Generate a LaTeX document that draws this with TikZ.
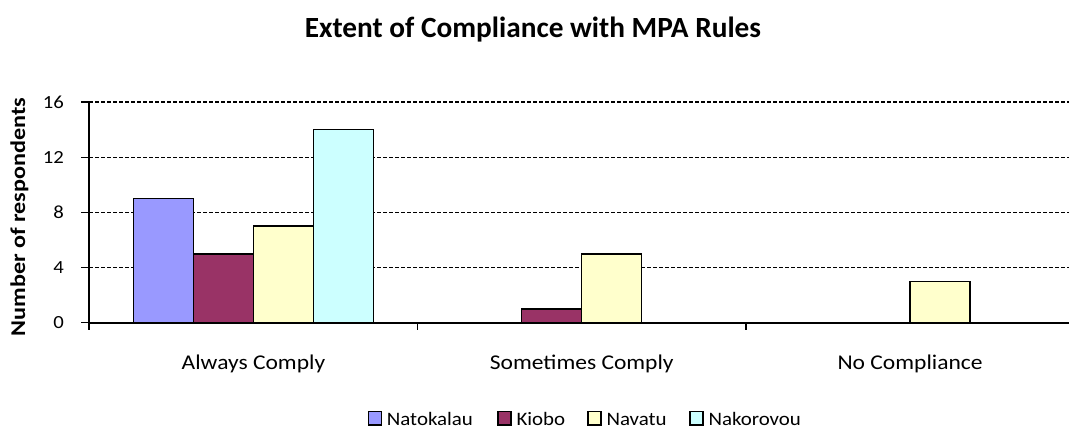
\documentclass[tikz,border=0pt]{standalone}
\usepackage{fontspec}
\setmainfont{Carlito}
\newfontfamily\widefont{Carlito}[FakeStretch=1.12]
\newfontfamily\legendfont{Carlito}[FakeStretch=1.1]
\newfontfamily\axistitlefont{Carlito}[FakeStretch=1.15]
\definecolor{natokalau}{HTML}{9999FF}
\definecolor{kiobo}{HTML}{993366}
\definecolor{navatu}{HTML}{FFFFCC}
\definecolor{nakorovou}{HTML}{CCFFFF}
\tikzset{
  gridline/.style={draw=black, line width=1.3pt, dash pattern=on 4pt off 2pt},
  axisline/.style={draw=black, line width=2pt},
  tickline/.style={draw=black, line width=1.3pt},
  bar/.style={draw=black, line width=1.5pt},
  legbox/.style={draw=black, line width=1.3pt, minimum width=13pt, minimum height=13.5pt, inner sep=0pt},
  ticklabel/.style={font=\widefont\fontsize{18.5}{22}\selectfont, inner sep=0pt},
  catlabel/.style={font=\widefont\fontsize{21}{25}\selectfont, inner sep=0pt},
  legtext/.style={font=\legendfont\fontsize{19}{23}\selectfont, inner sep=0pt, anchor=base west},
}
% chart geometry: origin of the value axis, pixels per unit, category width, bar width
\def\yzero{322.7}
\def\unit{13.79}
\def\catw{328.3}
\def\barw{60}
\def\xzero{89.3}
\begin{document}
\begin{tikzpicture}[x=1pt, y=-1pt]
\useasboundingbox (0,0) rectangle (1069,429);

% title
\node[font=\bfseries\fontsize{29.3}{34}\selectfont, anchor=base, inner sep=0pt] (title) at (533,37) {Extent of Compliance with MPA Rules};

% horizontal grid lines
\foreach \v in {4,8,12,16}
  \draw[gridline] (\xzero, {\yzero-\v*\unit}) -- (1069, {\yzero-\v*\unit});

% bars: category index / series slot / value / colour
\foreach \c/\s/\v/\col in {0/0/9/natokalau, 0/1/5/kiobo, 0/2/7/navatu, 0/3/14/nakorovou,
                           1/1/1/kiobo, 1/2/5/navatu,
                           2/2/3/navatu}
  \draw[bar, fill=\col] ({\xzero+44+\c*\catw+\s*\barw}, \yzero) rectangle ({\xzero+44+\c*\catw+(\s+1)*\barw}, {\yzero-\v*\unit});

% axes
\coordinate (ytop) at (\xzero,102);
\coordinate (orig) at (\xzero,\yzero);
\draw[axisline] (ytop) -- (\xzero,330);
\draw[axisline] (orig) -- (1069,\yzero);

% value ticks and labels
\foreach \v in {0,4,8,12,16} {
  \draw[tickline] (81,{\yzero-\v*\unit}) -- (\xzero,{\yzero-\v*\unit});
  \node[ticklabel, anchor=east] (yl\v) at (64,{\yzero-\v*\unit}) {\v};
}

% category ticks
\foreach \c in {1,2}
  \draw[tickline] ({\xzero+\c*\catw},\yzero) -- ({\xzero+\c*\catw},330);

% category labels
\foreach \c/\t in {0/Always Comply, 1/Sometimes Comply, 2/No Compliance}
  \node[catlabel, anchor=base] (cat\c) at ({\xzero+(\c+0.5)*\catw},369) {\t};

% value axis title
\node[font=\axistitlefont\bfseries\fontsize{21}{25}\selectfont, rotate=90, anchor=base, inner sep=0pt] (ytitle) at (25,217) {Number of respondents};

% legend
\foreach \x/\col/\t in {367.7/natokalau/Natokalau, 497.3/kiobo/Kiobo, 587.3/navatu/Navatu, 689.3/nakorovou/Nakorovou} {
  \node[legbox, fill=\col, anchor=south west] (box\t) at (\x,425.5) {};
  \node[legtext] (leg\t) at (\x+19,425.5) {\t};
}
\end{tikzpicture}
\end{document}
